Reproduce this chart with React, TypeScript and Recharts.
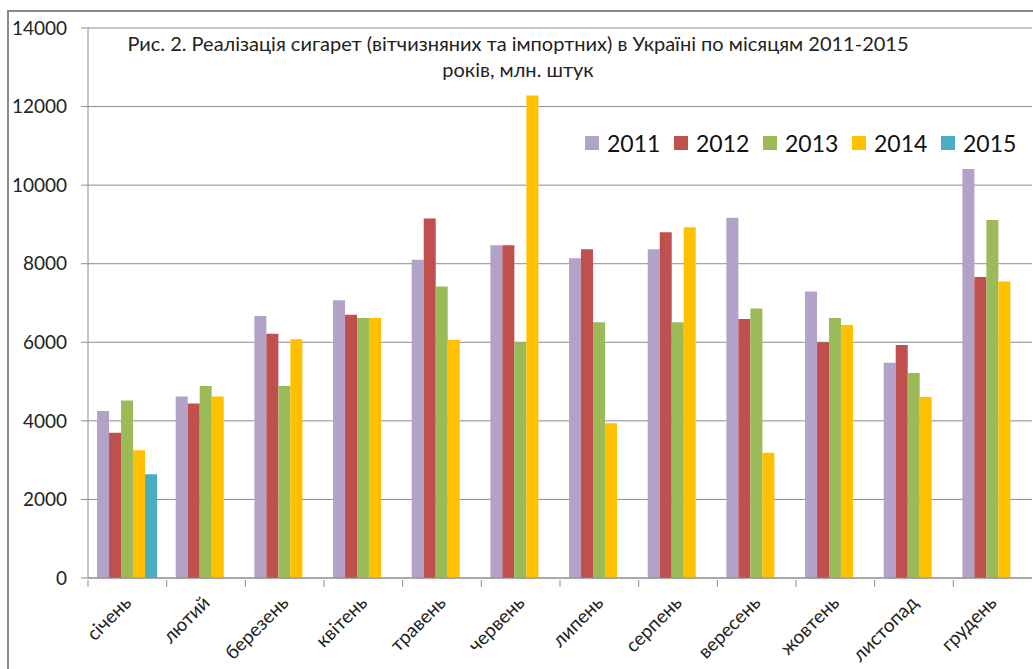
import React from "react";
import {
  BarChart,
  Bar,
  XAxis,
  YAxis,
  CartesianGrid,
  Legend,
} from "recharts";

const months = [
  "січень",
  "лютий",
  "березень",
  "квітень",
  "травень",
  "червень",
  "липень",
  "серпень",
  "вересень",
  "жовтень",
  "листопад",
  "грудень",
];

const y2011 = [4250, 4620, 6670, 7070, 8100, 8470, 8140, 8370, 9170, 7290, 5480, 10410];
const y2012 = [3700, 4440, 6220, 6700, 9150, 8470, 8370, 8800, 6590, 6000, 5930, 7660];
const y2013 = [4520, 4890, 4890, 6620, 7420, 6000, 6510, 6510, 6860, 6620, 5220, 9110];
const y2014 = [3250, 4620, 6080, 6620, 6060, 12280, 3940, 8930, 3190, 6440, 4610, 7550];
const y2015 = [2640, null, null, null, null, null, null, null, null, null, null, null];

const yTicks = [0, 2000, 4000, 6000, 8000, 10000, 12000, 14000];

const series = [
  { key: "2011", color: "#B3A2C7" },
  { key: "2012", color: "#C0504D" },
  { key: "2013", color: "#9BBB59" },
  { key: "2014", color: "#FFC000" },
  { key: "2015", color: "#4BACC6" },
];

const data = months.map((m, i) => ({
  month: m,
  "2011": y2011[i],
  "2012": y2012[i],
  "2013": y2013[i],
  "2014": y2014[i],
  "2015": y2015[i],
}));

const FONT = "Lato, 'Open Sans', sans-serif";
const CHART_W = 1033;
const CHART_H = 669;
const PLOT_LEFT = 88;
const PLOT_RIGHT = 1032;
const PLOT_BOTTOM = 578;
const BAND = (PLOT_RIGHT - PLOT_LEFT) / months.length;

const MonthTick = (props: any) => {
  const { x, y, payload } = props;
  const bx = x - BAND / 2;
  return (
    <g>
      <line x1={bx} y1={y} x2={bx} y2={y + 7} stroke="#8c8c8c" />
      <text
        x={x + 5}
        y={y + 24}
        textAnchor="end"
        transform={`rotate(-45, ${x + 5}, ${y + 24})`}
        fontSize={19}
        fontFamily={FONT}
        fill="#222"
      >
        {payload.value}
      </text>
    </g>
  );
};

const LegendContent = () => (
  <div style={{ display: "flex", fontFamily: FONT, fontSize: 23, color: "#111" }}>
    {series.map((s) => (
      <div key={s.key} style={{ display: "flex", alignItems: "center", width: 89 }}>
        <span
          style={{
            display: "inline-block",
            width: 14,
            height: 14,
            background: s.color,
            marginRight: 8,
          }}
        />
        <span>{s.key}</span>
      </div>
    ))}
  </div>
);

export default function App() {
  return (
    <div
      style={{
        position: "absolute",
        left: 0,
        top: 0,
        width: CHART_W,
        height: CHART_H,
        overflow: "hidden",
        background: "#fff",
      }}
    >
      {/* outer frame, cut off on the right and bottom */}
      <div
        style={{
          position: "absolute",
          left: 7,
          top: 10,
          width: 1100,
          height: 800,
          borderLeft: "2px solid #8a8a8a",
          borderTop: "2px solid #8a8a8a",
        }}
      />
      <BarChart
        width={CHART_W}
        height={CHART_H}
        data={data}
        margin={{ top: 28, right: CHART_W - PLOT_RIGHT, bottom: 0, left: 8 }}
        barCategoryGap="11.5%"
        barGap={0}
        style={{ position: "absolute", left: 0, top: 0 }}
      >
        <CartesianGrid vertical={false} stroke="#8c8c8c" />
        <XAxis
          dataKey="month"
          height={CHART_H - PLOT_BOTTOM}
          tickLine={false}
          tickSize={0}
          tick={<MonthTick />}
          interval={0}
          axisLine={{ stroke: "#8c8c8c" }}
        />
        <YAxis
          width={80}
          domain={[0, 14000]}
          ticks={yTicks}
          interval={0}
          tickSize={7}
          tickMargin={14}
          tick={{ fontSize: 19, fontFamily: FONT, fill: "#222" }}
          tickLine={{ stroke: "#8c8c8c" }}
          axisLine={{ stroke: "#8c8c8c" }}
        />
        <Legend
          layout="horizontal"
          verticalAlign="middle"
          align="center"
          content={<LegendContent />}
          wrapperStyle={{ position: "absolute", left: 585, top: 129, width: 460 }}
        />
        {series.map((s) => (
          <Bar key={s.key} dataKey={s.key} fill={s.color} isAnimationActive={false} />
        ))}
      </BarChart>
      <div
        style={{
          position: "absolute",
          left: 0,
          width: 1036,
          top: 30,
          textAlign: "center",
          fontFamily: FONT,
          fontSize: 20,
          lineHeight: "26px",
          color: "#222",
        }}
      >
        Рис. 2. Реалізація сигарет (вітчизняних та імпортних) в Україні по місяцям 2011-2015
        <br />
        років, млн. штук
      </div>
    </div>
  );
}
